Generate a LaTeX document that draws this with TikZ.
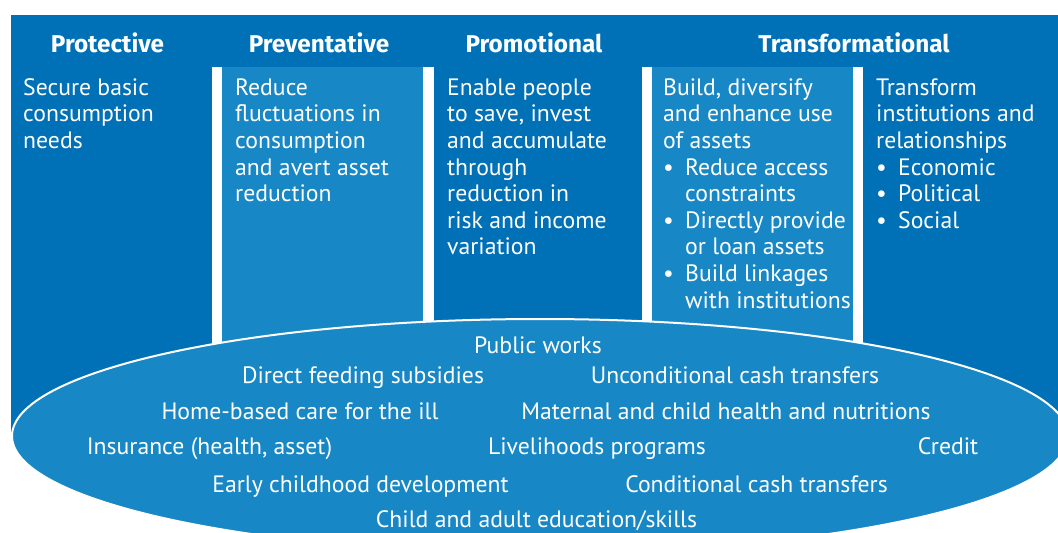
\documentclass[tikz,border=0pt]{standalone}
\usepackage{fontspec}
\setmainfont{PT Sans}
\newfontfamily\headfont{Fira Sans}
\usepackage{xcolor}
\usepackage{tikz}
\definecolor{darkblue}{RGB}{0,112,183}
\definecolor{lightblue}{RGB}{24,135,198}
\newcommand{\bitem}[1]{\makebox[22pt][l]{\textbullet}#1}
\newcommand{\bcont}{\hspace*{22pt}}

\begin{document}
\begin{tikzpicture}[x=1pt,y=-1pt,every node/.style={text=white,inner sep=0pt},
    head/.style={font=\headfont\fontsize{24.3}{26.6}\selectfont\bfseries,anchor=base},
    cell/.style={font=\fontsize{23.7}{26.6}\selectfont,anchor=north west,align=left},
    prog/.style={font=\fontsize{23.7}{26.6}\selectfont,anchor=base}]
  \useasboundingbox (0,0) rectangle (1058,533);
  \clip (0,0) rectangle (1058,533);
  % background and columns
  \fill[darkblue] (11,15) rectangle (1070,438);
  \fill[white] (212,67) rectangle (434,400);
  \fill[lightblue] (222,67) rectangle (423,400);
  \fill[white] (642,67) rectangle (863,400);
  \fill[lightblue] (652,67) rectangle (853,400);
  % headings
  \node[head] (protective) at (107.5,52.7) {Protective};
  \node[head] (preventative) at (319,52.7) {Preventative};
  \node[head] (promotional) at (534,52.7) {Promotional};
  \node[head] (transformational) at (854,52.7) {Transformational};
  % column texts
  \node[cell] (secure) at (23,76.4) {\strut Secure basic\\consumption\\needs};
  \node[cell] (reduce) at (235,76.4) {\strut Reduce\\fluctuations in\\consumption\\and avert asset\\reduction};
  \node[cell] (enable) at (447,76.4) {\strut Enable people\\to save, invest\\and accumulate\\through\\reduction in\\risk and income\\variation};
  \node[cell] (build) at (663,76.4) {\strut Build, diversify\\and enhance use\\of assets\\
    \bitem{Reduce access}\\\bcont constraints\\\bitem{Directly provide}\\\bcont or loan assets\\
    \bitem{Build linkages}\\\bcont with institutions};
  \node[cell] (transform) at (876,76.4) {\strut Transform\\institutions and\\relationships\\
    \bitem{Economic}\\\bitem{Political}\\\bitem{Social}};
  % programs
  \filldraw[fill=lightblue,draw=white,line width=2pt] (540,436) ellipse [x radius=528,y radius=117];
  \node[prog] (publicworks) at (538,353) {Public works};
  \node[prog] (feeding) at (363,383) {Direct feeding subsidies};
  \node[prog] (unconditional) at (735,383) {Unconditional cash transfers};
  \node[prog] (homecare) at (300,419) {Home-based care for the ill};
  \node[prog] (maternal) at (726,419) {Maternal and child health and nutritions};
  \node[prog] (insurance) at (209.5,454) {Insurance (health, asset)};
  \node[prog] (livelihoods) at (597,454) {Livelihoods programs};
  \node[prog] (credit) at (948,454) {Credit};
  \node[prog] (childhood) at (360.5,492) {Early childhood development};
  \node[prog] (conditional) at (756.5,492) {Conditional cash transfers};
  \node[prog] (education) at (536.5,527) {Child and adult education/skills};
\end{tikzpicture}
\end{document}
